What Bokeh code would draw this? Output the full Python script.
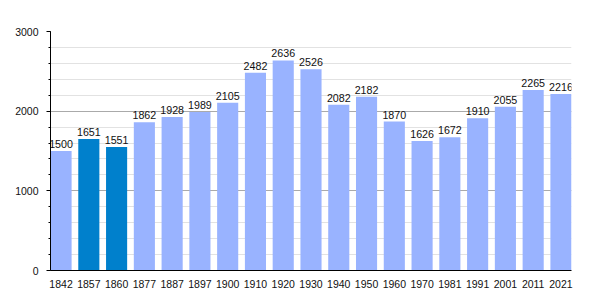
from bokeh.plotting import figure
from bokeh.models import ColumnDataSource, SingleIntervalTicker, FixedTicker, Range1d
from bokeh.core.properties import value
from bokeh.embed import file_html
from bokeh.resources import INLINE

years = ["1842", "1857", "1860", "1877", "1887", "1897", "1900", "1910", "1920", "1930",
         "1940", "1950", "1960", "1970", "1981", "1991", "2001", "2011", "2021"]
population = [1500, 1651, 1551, 1862, 1928, 1989, 2105, 2482, 2636, 2526,
              2082, 2182, 1870, 1626, 1672, 1910, 2055, 2265, 2216]
highlighted = ["1857", "1860"]

LIGHT = "#99b3ff"
DARK = "#0080cc"

idx = list(range(len(years)))
colors = [DARK if y in highlighted else LIGHT for y in years]
src = ColumnDataSource(dict(x=idx, top=population, color=colors,
                            label=[str(v) for v in population]))

bw = 0.76
p = figure(width=600, height=300, output_backend="svg", toolbar_location=None,
           x_range=Range1d(-bw / 2, len(years) - 1 + bw / 2), y_range=Range1d(0, 3000),
           min_border_left=50, min_border_right=29, min_border_top=31, min_border_bottom=30)
p.outline_line_color = None
p.background_fill_color = "white"

p.vbar(x="x", top="top", width=bw, color="color", source=src, line_color=None)
p.text(x="x", y="top", text="label", source=src, text_align="center",
       text_baseline="bottom", y_offset=-3, text_font=value("Liberation Sans"),
       text_font_size="10.7px", text_color="#111111")

ticker = SingleIntervalTicker(interval=1000, num_minor_ticks=5)
p.yaxis.ticker = ticker
p.ygrid.ticker = ticker
p.ygrid.grid_line_color = "#aaaaaa"
p.ygrid.minor_grid_line_color = "#e2e2e2"
p.xgrid.grid_line_color = None

p.yaxis.axis_line_color = "black"
p.yaxis.major_tick_line_color = "black"
p.yaxis.minor_tick_line_color = "black"
p.yaxis.major_tick_out = 4
p.yaxis.major_tick_in = 0
p.yaxis.minor_tick_out = 2
p.yaxis.minor_tick_in = 0
p.yaxis.major_label_standoff = 8
p.yaxis.major_label_text_font = "Liberation Sans"
p.yaxis.major_label_text_font_size = "10.5px"
p.yaxis.major_label_text_color = "#111111"

p.xaxis.ticker = FixedTicker(ticks=idx)
p.xaxis.major_label_overrides = {i: y for i, y in enumerate(years)}
p.xaxis.axis_line_color = "black"
p.xaxis.major_tick_line_color = None
p.xaxis.minor_tick_line_color = None
p.xaxis.major_label_standoff = 3
p.xaxis.major_label_text_font = "Liberation Sans"
p.xaxis.major_label_text_font_size = "10.5px"
p.xaxis.major_label_text_color = "#111111"

open("out.html", "w").write(file_html(p, INLINE))
